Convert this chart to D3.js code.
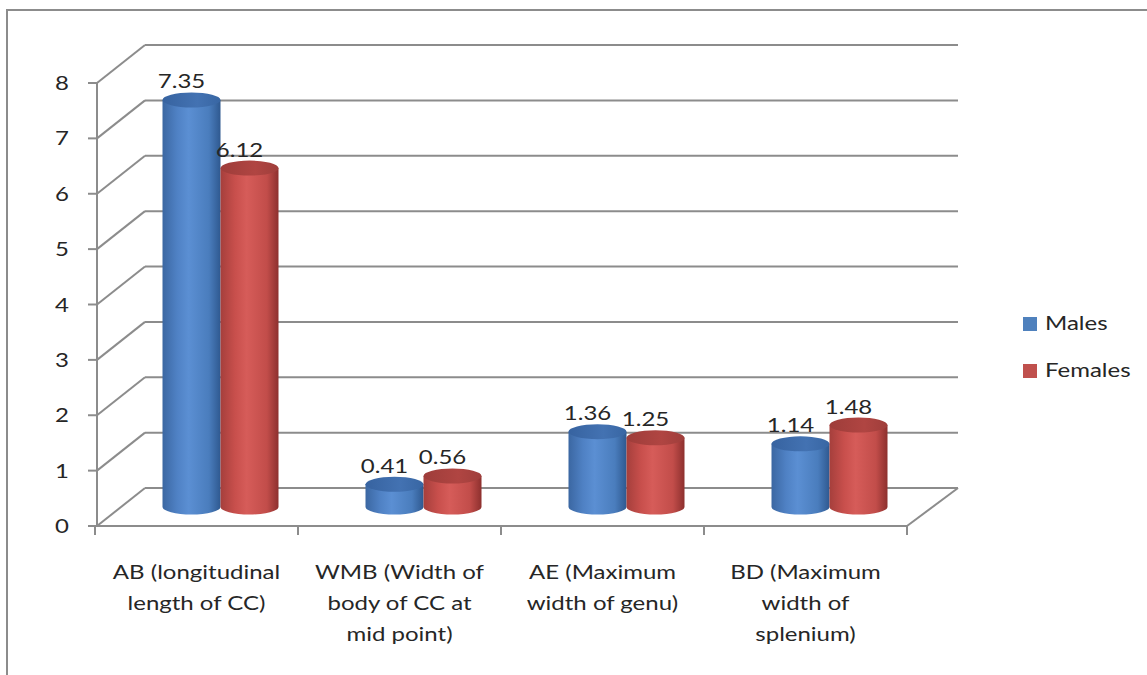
<!DOCTYPE html>
<html>
<head>
<meta charset="utf-8">
<script src="https://cdn.jsdelivr.net/npm/d3@7"></script>
<style>
  body { margin: 0; background: #fff; }
  svg { display: block; font-family: Lato, "Liberation Sans", sans-serif; }
</style>
</head>
<body>
<div id="chart"></div>
<script>
const categories = [
  'AB (longitudinal length of CC)',
  'WMB (Width of body of CC at mid point)',
  'AE (Maximum width of genu)',
  'BD (Maximum width of splenium)'
];
const categoryLines = [
  ['AB (longitudinal', 'length of CC)'],
  ['WMB (Width of', 'body of CC at', 'mid point)'],
  ['AE (Maximum', 'width of genu)'],
  ['BD (Maximum', 'width of', 'splenium)']
];
const seriesNames = ['Males', 'Females'];
const males = [7.35, 0.41, 1.36, 1.14];
const females = [6.12, 0.56, 1.25, 1.48];
const yTicks = [0, 1, 2, 3, 4, 5, 6, 7, 8];

const width = 1147;
const height = 675;

// the original picture is stretched horizontally, so text is too
const stretch = 1.2;
const textColor = '#262626';

// 3D depth offset of the back wall relative to the front plane
const depth = { dx: 48, dy: -38 };

const svg = d3.select('#chart').append('svg').attr('width', width).attr('height', height);

function addText(parent, tx, ty, anchor) {
  return parent.append('text')
    .attr('transform', `translate(${tx},${ty}) scale(${stretch},1)`)
    .attr('text-anchor', anchor)
    .attr('font-size', 20)
    .attr('fill', textColor);
}

// chart border
svg.append('rect')
  .attr('x', 7).attr('y', 10)
  .attr('width', 1150).attr('height', 680)
  .attr('fill', 'none')
  .attr('stroke', '#8c8c8c')
  .attr('stroke-width', 2);

const x = d3.scaleBand().domain(categories).range([95, 907]);
const xs = d3.scaleBand().domain(seriesNames).range([0, x.bandwidth()]).paddingOuter(0.75);
const y = d3.scaleLinear().domain([0, 8]).range([526, 83]);

const gridColor = '#8c8c8c';
const grid = svg.append('g').attr('stroke', gridColor).attr('stroke-width', 2).attr('fill', 'none');

// back wall gridlines + side wall diagonals
yTicks.forEach(t => {
  const yf = y(t);
  const yb = yf + depth.dy;
  grid.append('line')
    .attr('x1', 97 + depth.dx).attr('x2', 958)
    .attr('y1', yb).attr('y2', yb);
  grid.append('line')
    .attr('x1', 97).attr('x2', 97 + depth.dx)
    .attr('y1', yf).attr('y2', yb);
  // tick on the value axis
  grid.append('line')
    .attr('x1', 88).attr('x2', 97)
    .attr('y1', yf).attr('y2', yf);
});

// value axis line
grid.append('line').attr('x1', 97).attr('x2', 97).attr('y1', y(8)).attr('y2', y(0));

// floor front edge and right diagonal
grid.append('line').attr('x1', 95).attr('x2', 907).attr('y1', y(0)).attr('y2', y(0));
grid.append('line')
  .attr('x1', 907).attr('x2', 907 + depth.dx + 3)
  .attr('y1', y(0)).attr('y2', y(0) + depth.dy);

// category ticks
const boundaries = categories.map(c => x(c)).concat([x.range()[1]]);
boundaries.forEach(bx => {
  grid.append('line').attr('x1', bx).attr('x2', bx).attr('y1', y(0)).attr('y2', y(0) + 9);
});

// y-axis labels
const yLab = svg.append('g');
yTicks.forEach(t => {
  addText(yLab, 69, y(t) + 7, 'end').text(t);
});

// gradients for cylinders
const defs = svg.append('defs');
function makeGradient(id, stops) {
  const g = defs.append('linearGradient').attr('id', id)
    .attr('x1', '0%').attr('x2', '100%').attr('y1', '0%').attr('y2', '0%');
  stops.forEach(([o, c]) => g.append('stop').attr('offset', o).attr('stop-color', c));
}
makeGradient('bodyMales', [['0%', '#3b67a2'], ['25%', '#4f81c4'], ['45%', '#5b8fd3'], ['80%', '#4a7dbd'], ['100%', '#2f5990']]);
makeGradient('topMales', [['0%', '#3763a0'], ['60%', '#4372b2'], ['100%', '#3866a3']]);
makeGradient('bodyFemales', [['0%', '#a53f3c'], ['25%', '#c84f4c'], ['45%', '#d65c59'], ['80%', '#c24d4a'], ['100%', '#8d302e']]);
makeGradient('topFemales', [['0%', '#9e3d3a'], ['60%', '#b04542'], ['100%', '#9f3e3b']]);

const bars = [];
categories.forEach((c, i) => {
  bars.push({ cat: c, series: 'Males', value: males[i] });
  bars.push({ cat: c, series: 'Females', value: females[i] });
});

const rx = xs.bandwidth() / 2;
const ry = 7.5;
const cylG = svg.append('g');
bars.forEach(d => {
  const cx = x(d.cat) + xs(d.series) + rx + depth.dx / 2;
  const yb = y(0) + depth.dy / 2;
  const yt = y(d.value) + depth.dy / 2;
  const body = `M${cx - rx},${yt} L${cx - rx},${yb} A${rx},${ry} 0 0 0 ${cx + rx},${yb} L${cx + rx},${yt} Z`;
  cylG.append('path').attr('d', body).attr('fill', `url(#body${d.series})`);
  cylG.append('ellipse')
    .attr('cx', cx).attr('cy', yt).attr('rx', rx).attr('ry', ry)
    .attr('fill', `url(#top${d.series})`);
  addText(cylG, cx - 10, yt - ry - 4, 'middle').text(d.value.toFixed(2));
});

// category labels
const catG = svg.append('g');
categories.forEach((c, i) => {
  const t = addText(catG, x(c) + x.bandwidth() / 2, 579, 'middle');
  categoryLines[i].forEach((line, j) => {
    t.append('tspan').attr('x', 0).attr('dy', j === 0 ? 0 : 31).text(line);
  });
});

// legend
const legendColors = { Males: '#4f81bd', Females: '#c0504d' };
const legend = svg.append('g');
seriesNames.forEach((s, i) => {
  const ly = 317 + i * 47;
  legend.append('rect')
    .attr('x', 1023).attr('y', ly).attr('width', 14).attr('height', 14)
    .attr('fill', legendColors[s]);
  addText(legend, 1045, ly + 13, 'start').text(s);
});
</script>
</body>
</html>
